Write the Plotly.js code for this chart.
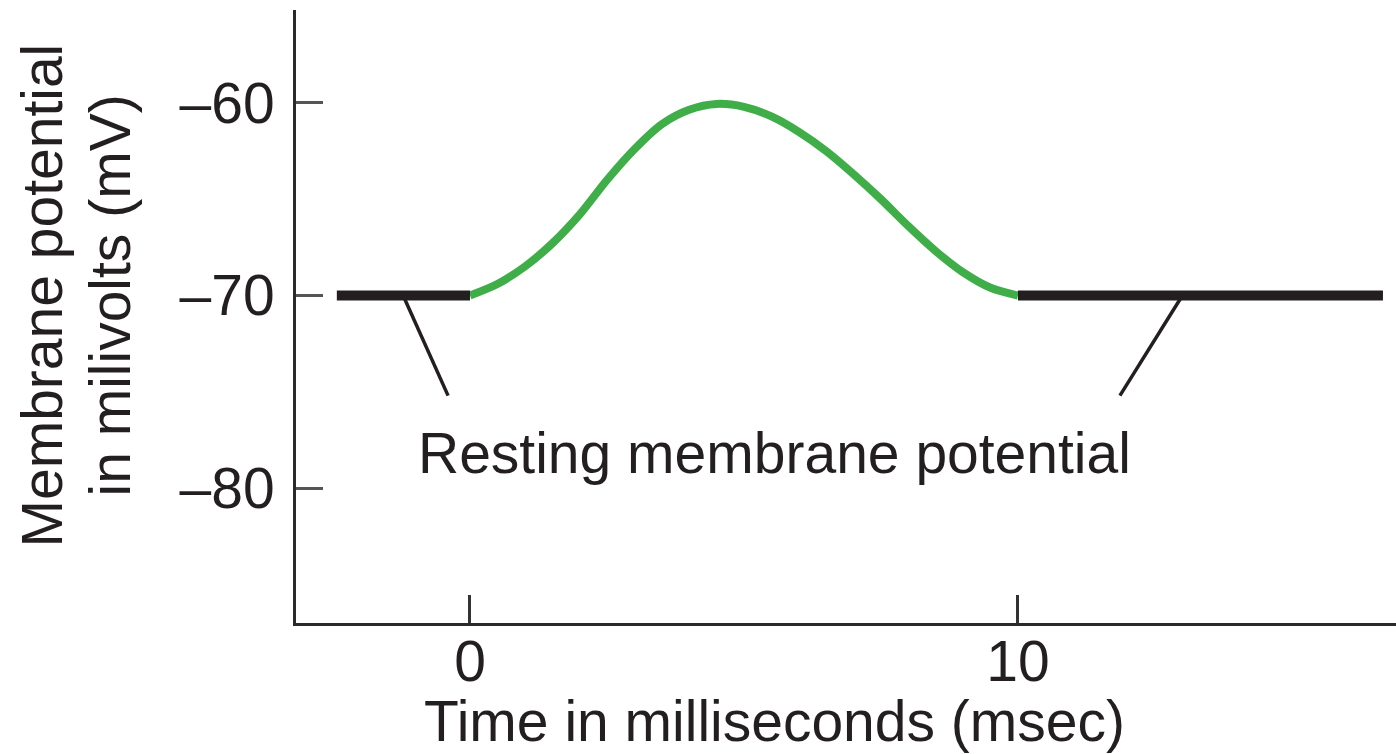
<!DOCTYPE html>
<html>
<head>
<meta charset="utf-8">
<script src="https://cdn.plot.ly/plotly-3.0.1.min.js"></script>
<style>html,body{margin:0;padding:0;background:#fff;}#chart{width:1396px;height:754px;}</style>
</head>
<body>
<div id="chart"></div>
<script>
// Resting segments (ms, mV)
const restLeftX = [-2.43, 0];
const restLeftY = [-70, -70];
const restRightX = [10, 16.66];
const restRightY = [-70, -70];
// Depolarisation bump (ms, mV)
const spikeX = [0, 0.5, 1.0, 1.5, 2.0, 2.5, 3.0, 3.5, 4.0, 4.5, 5.0, 5.5, 6.0, 6.5, 7.0, 7.5, 8.0, 8.5, 9.0, 9.5, 10];
const spikeY = [-70, -69.4, -68.5, -67.3, -65.8, -64.0, -62.4, -61.1, -60.35, -60.05, -60.2, -60.7, -61.5, -62.5, -63.7, -65.0, -66.4, -67.7, -68.8, -69.6, -70];
// Pointer lines to the label (ms, mV): [start, end]
const pointerLeftX = [-1.22, -0.40];
const pointerLeftY = [-70, -75.2];
const pointerRightX = [13.0, 11.86];
const pointerRightY = [-70, -75.2];
// Tick labels
const xTickVals = [0, 10];
const xTickText = ['0', '10'];
const yTickVals = [-80, -70, -60];
const yTickText = ['\u201380', '\u201370', '\u201360'];
// Texts
const labelText = 'Resting membrane potential';
const xTitleText = 'Time in milliseconds (msec)';
const yTitleLine1 = 'Membrane potential';
const yTitleLine2 = 'in milivolts (mV)';

const FONT = 'Liberation Sans, Arial, Helvetica, sans-serif';
const INK = '#231f20';
const GREEN = '#3fae49';
const FS = 57;

const traces = [
  {x: spikeX, y: spikeY, mode: 'lines', line: {color: GREEN, width: 8, shape: 'spline', smoothing: 0.8}, hoverinfo: 'skip'},
  {x: restLeftX, y: restLeftY, mode: 'lines', line: {color: INK, width: 10}, hoverinfo: 'skip'},
  {x: restRightX, y: restRightY, mode: 'lines', line: {color: INK, width: 10}, hoverinfo: 'skip'}
];

const layout = {
  width: 1396, height: 754,
  margin: {l: 296, r: 0, t: 10, b: 131, pad: 0},
  paper_bgcolor: '#fff', plot_bgcolor: '#fff',
  showlegend: false,
  font: {family: FONT, size: FS, color: INK},
  xaxis: {
    range: [-3.175, 16.898], tickvals: xTickVals, ticktext: xTickText,
    ticks: 'inside', ticklen: 28, tickwidth: 3, tickcolor: '#333',
    showline: true, linewidth: 3, linecolor: '#2a2a2a',
    showgrid: false, zeroline: false, fixedrange: true,
    ticklabelstandoff: -13,
    tickfont: {family: FONT, size: FS, color: INK}
  },
  yaxis: {
    range: [-87.01, -55.17], tickvals: yTickVals, ticktext: yTickText,
    ticks: 'inside', ticklen: 27, tickwidth: 3, tickcolor: '#555',
    showline: true, linewidth: 3, linecolor: '#2a2a2a',
    showgrid: false, zeroline: false, fixedrange: true,
    ticklabelstandoff: 7,
    tickfont: {family: FONT, size: FS, color: INK}
  },
  shapes: [
    {type: 'line', xref: 'x', yref: 'y', x0: pointerLeftX[0], y0: pointerLeftY[0], x1: pointerLeftX[1], y1: pointerLeftY[1], line: {color: INK, width: 3.5}},
    {type: 'line', xref: 'x', yref: 'y', x0: pointerRightX[0], y0: pointerRightY[0], x1: pointerRightX[1], y1: pointerRightY[1], line: {color: INK, width: 3.5}}
  ],
  annotations: [
    {text: labelText, xref: 'x', yref: 'y', x: 5.55, y: -78.2, showarrow: false, xanchor: 'center', yanchor: 'middle', font: {family: FONT, size: FS, color: INK}},
    {text: xTitleText, xref: 'x', yref: 'paper', x: 5.55, y: 0, yshift: -98, showarrow: false, xanchor: 'center', yanchor: 'middle', font: {family: FONT, size: FS, color: INK}},
    {text: yTitleLine1, xref: 'paper', yref: 'y', x: 0, xshift: -254, y: -70, showarrow: false, textangle: -90, xanchor: 'center', yanchor: 'middle', font: {family: FONT, size: FS, color: INK}},
    {text: yTitleLine2, xref: 'paper', yref: 'y', x: 0, xshift: -186, y: -70, showarrow: false, textangle: -90, xanchor: 'center', yanchor: 'middle', font: {family: FONT, size: FS, color: INK}}
  ]
};

Plotly.newPlot('chart', traces, layout, {displayModeBar: false, staticPlot: true});
</script>
</body>
</html>
